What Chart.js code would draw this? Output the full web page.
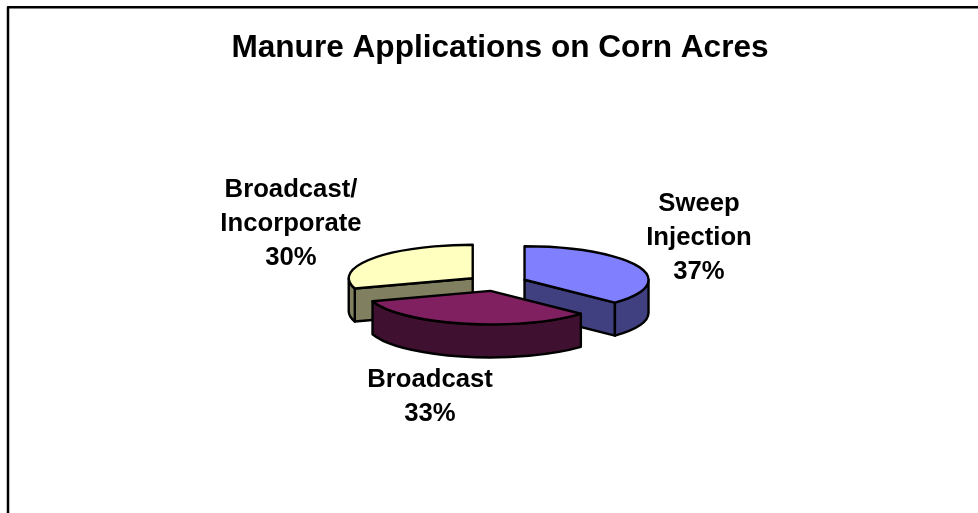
<!DOCTYPE html>
<html>
<head>
<meta charset="utf-8">
<style>
html,body{margin:0;padding:0;background:#fff}
#wrap{position:relative;width:978px;height:513px;overflow:hidden}
canvas{display:block}
</style>
<script src="https://cdn.jsdelivr.net/npm/chart.js@4/dist/chart.umd.min.js"></script>
</head>
<body>
<div id="wrap"><canvas id="c" width="978" height="513"></canvas></div>
<script>
const chartTitle = 'Manure Applications on Corn Acres';
const categories = ['Sweep Injection', 'Broadcast', 'Broadcast/ Incorporate'];
const values = [37, 33, 30];
const topColors = ['#8080FF', '#802060', '#FFFFC0'];
const wallColors = ['#404080', '#401030', '#808060'];
const labelLines = [['Sweep', 'Injection', '37%'], ['Broadcast', '33%'], ['Broadcast/', 'Incorporate', '30%']];

const TILT = 0.27, DEPTH = 33, EXPLODE = 30, FONT_FAMILY = '"Liberation Sans", Arial, sans-serif';
const labelAnchors = [{x: 699, y: 204}, {x: 430, y: 379.5}, {x: 291, y: 189.7}];
const LINE_STEP = 34, EDGE = 2.4;
const paintOrder = [2, 0, 1];

function geom(arc) {
  const p = arc.getProps(['x', 'y', 'startAngle', 'endAngle', 'outerRadius']);
  const mid = (p.startAngle + p.endAngle) / 2;
  return {cx: p.x + Math.cos(mid) * EXPLODE, cy: p.y + Math.sin(mid) * EXPLODE * TILT,
          r: p.outerRadius, a: p.startAngle, b: p.endAngle};
}
function rimPt(g, ang) {
  return [g.cx + Math.cos(ang) * g.r, g.cy + Math.sin(ang) * g.r * TILT];
}
function paint(ctx, fill) {
  ctx.fillStyle = fill; ctx.fill();
  ctx.lineWidth = EDGE; ctx.lineJoin = 'round'; ctx.strokeStyle = '#000'; ctx.stroke();
}
function cutFace(ctx, g, ang, fill) {
  const p = rimPt(g, ang);
  ctx.beginPath();
  ctx.moveTo(g.cx, g.cy);
  ctx.lineTo(p[0], p[1]);
  ctx.lineTo(p[0], p[1] + DEPTH);
  ctx.lineTo(g.cx, g.cy + DEPTH);
  ctx.closePath();
  paint(ctx, fill);
}
const tiltedPie = {
  id: 'tiltedPie',
  afterLayout(chart) {
    chart.titleBlock.left += 6;
    chart.titleBlock.top -= 4;
    chart.titleBlock.bottom -= 4;
  },
  beforeDatasetDraw(chart, args) {
    const ctx = chart.ctx;
    const arcs = chart.getDatasetMeta(args.index).data;
    paintOrder.forEach(i => {
      const arc = arcs[i], g = geom(arc), wall = wallColors[i];
      if (Math.sin(g.a - Math.PI / 2) > 0.01) cutFace(ctx, g, g.a, wall);
      if (Math.sin(g.b + Math.PI / 2) > 0.01) cutFace(ctx, g, g.b, wall);
      const s = Math.max(g.a, 0), e = Math.min(g.b, Math.PI);
      if (e > s) {
        ctx.beginPath();
        ctx.ellipse(g.cx, g.cy, g.r, g.r * TILT, 0, s, e);
        ctx.ellipse(g.cx, g.cy + DEPTH, g.r, g.r * TILT, 0, e, s, true);
        ctx.closePath();
        paint(ctx, wall);
      }
      ctx.save();
      ctx.translate(g.cx, g.cy);
      ctx.scale(1, TILT);
      ctx.translate(-arc.x, -arc.y);
      arc.draw(ctx);
      ctx.restore();
      ctx.beginPath();
      ctx.moveTo(g.cx, g.cy);
      ctx.ellipse(g.cx, g.cy, g.r, g.r * TILT, 0, g.a, g.b);
      ctx.closePath();
      ctx.lineWidth = EDGE; ctx.lineJoin = 'round'; ctx.strokeStyle = '#000'; ctx.stroke();
    });
    return false;
  },
  afterDraw(chart) {
    const ctx = chart.ctx;
    ctx.save();
    ctx.strokeStyle = '#000'; ctx.lineWidth = 2.5;
    ctx.beginPath();
    ctx.moveTo(8, 513); ctx.lineTo(8, 7.3); ctx.lineTo(978, 7.3);
    ctx.stroke();
    ctx.fillStyle = '#000';
    ctx.font = 'bold 25.7px ' + FONT_FAMILY;
    ctx.textAlign = 'center'; ctx.textBaseline = 'middle';
    labelLines.forEach((lines, i) => lines.forEach((t, j) => {
      ctx.fillText(t, labelAnchors[i].x, labelAnchors[i].y + j * LINE_STEP);
    }));
    ctx.restore();
  }
};
new Chart(document.getElementById('c'), {
  type: 'pie',
  data: {labels: categories, datasets: [{
    data: values, backgroundColor: topColors, borderWidth: 0
  }]},
  options: {
    responsive: false, animation: false, radius: 124,
    layout: {padding: {left: 16, right: 0, top: 0, bottom: 18}},
    plugins: {
      legend: {display: false}, tooltip: {enabled: false},
      title: {display: true, text: chartTitle, color: '#000',
        font: {family: FONT_FAMILY, size: 31.6, weight: 'bold', lineHeight: 1.2},
        padding: {top: 33, bottom: 0}}
    }
  },
  plugins: [tiltedPie]
});
</script>
</body>
</html>
